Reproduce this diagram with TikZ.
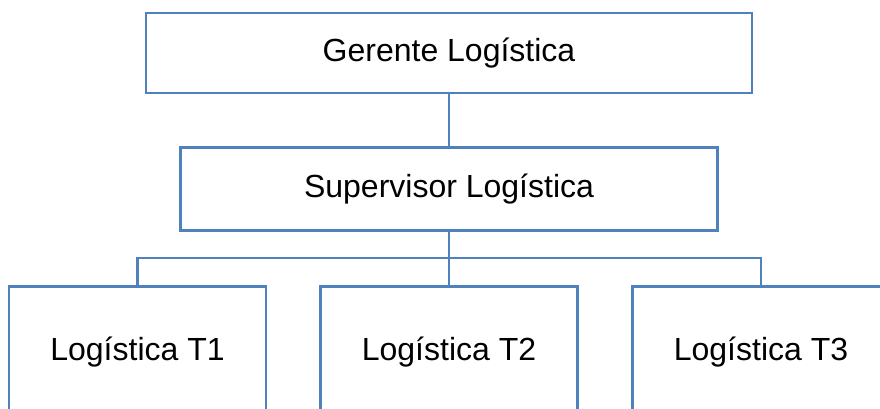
\documentclass[tikz,border=0pt]{standalone}
\usepackage{fontspec}
\setmainfont{Liberation Sans}
\usepackage{tikz}
\usetikzlibrary{positioning}
\definecolor{orgblue}{RGB}{79,129,189}

\tikzset{
  puesto/.style={draw=orgblue, line width=2.5pt, fill=white, inner sep=0pt,
    font=\fontsize{32}{38}\selectfont},
  enlace/.style={draw=orgblue, line width=2.5pt}
}

\begin{document}
\begin{tikzpicture}[x=1pt, y=-1pt]
\useasboundingbox (0,0) rectangle (880,408);
\clip (0,0) rectangle (880,408);
% jefaturas
\node[puesto, minimum width=606pt, minimum height=80pt] (gerente) at (449,53) {Gerente Logística};
\node[puesto, minimum width=537pt, minimum height=83pt] (supervisor) at (449,189) {Supervisor Logística};
% turnos
\foreach \n/\cx in {1/137.5, 2/449, 3/761}
  \node[puesto, minimum width=257pt, minimum height=132pt, anchor=north] (t\n) at (\cx,285) {Logística T\n};
% conectores
\draw[enlace] (gerente) -- (supervisor);
\coordinate (ramal) at (449,258);
\draw[enlace] (supervisor.south) -- (ramal);
\foreach \n in {1,2,3}
  \draw[enlace] (ramal) -| (t\n.north);
\end{tikzpicture}
\end{document}
